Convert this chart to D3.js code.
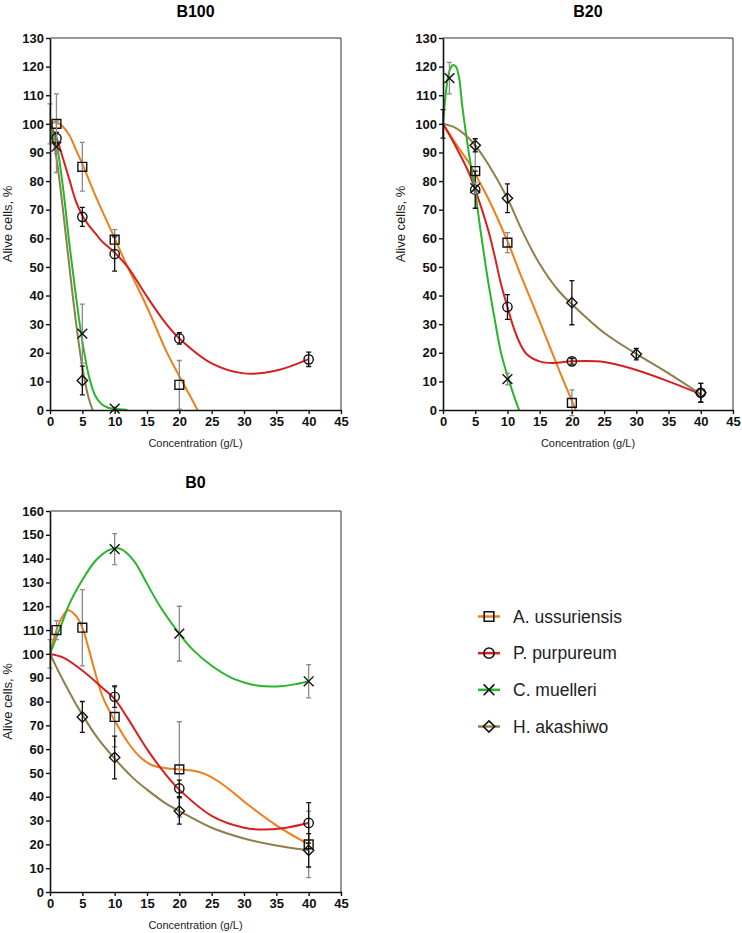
<!DOCTYPE html>
<html>
<head>
<meta charset="utf-8">
<script src="https://cdn.jsdelivr.net/npm/d3@7"></script>
<style>
  body { margin: 0; background: #fff; }
  svg { display: block; }
</style>
</head>
<body>
<div id="chart"></div>
<script>
// ---- data ----
const species = ["A. ussuriensis", "P. purpureum", "C. muelleri", "H. akashiwo"];
const xTicks = [0, 5, 10, 15, 20, 25, 30, 35, 40, 45];

// measured points: [concentration, alive %, error]
const b100Ussuriensis = [[1, 100, 10.5], [5, 85, 8.5], [10, 59.5, 3.5], [20, 8.8, 8.5]];
const b100Purpureum   = [[1, 95, 2], [5, 67.5, 3.3], [10, 54.5, 6], [20, 25, 2], [40, 17.7, 2.5]];
const b100Muelleri    = [[1, 92, 9], [5, 26.7, 10.3], [10, 0.5, 0.5]];
const b100Akashiwo    = [[5, 10.3, 5]];

const b20Ussuriensis = [[5, 83.5, 7], [10, 58.5, 3.5], [20, 2.5, 4.5]];
const b20Purpureum   = [[5, 77, 6.5], [10, 36, 4.3], [20, 17, 1], [40, 6, 3.3]];
const b20Muelleri    = [[1, 116, 5.5], [5, 77.5, 2], [10, 10.8, 2]];
const b20Akashiwo    = [[5, 92.5, 2.3], [10, 74, 5], [20, 37.5, 7.7], [30, 19.5, 2], [40, 6, 3.3]];

const b0Ussuriensis = [[1, 110, 4], [5, 111, 16], [10, 73.5, 12.5], [20, 51.5, 20], [40, 20, 14]];
const b0Purpureum   = [[10, 82, 4.5], [20, 43.5, 3.5], [40, 29, 8.5]];
const b0Muelleri    = [[10, 144, 6.5], [20, 108.5, 11.5], [40, 88.5, 7]];
const b0Akashiwo    = [[5, 73.5, 6.5], [10, 56.5, 9], [20, 34, 5.5], [40, 17.5, 7]];

// untreated control error bars at 0 g/L
const b100Control = [[0, 100, 7]];
const b20Control  = [[0, 100, 5]];
const b0Control   = [[0, 100, 6]];

// fitted curves: [concentration, alive %]
const b100UssuriensisFit = [[0, 100], [1, 100.5], [2, 99], [3, 96], [4, 91], [5, 86], [7, 75], [10, 60], [12, 50], [15, 36], [18, 20.5], [20, 11.8], [22, 3.5], [22.8, 0]];
const b100PurpureumFit   = [[0, 100], [1, 95], [2, 88], [3, 80.5], [4, 73], [5, 68], [6, 64.5], [7, 61.8], [8, 59], [10, 55], [12, 50], [15, 39.6], [18, 30], [20, 25], [25, 16.3], [30, 12.8], [35, 13.8], [40, 17.8]];
const b100MuelleriFit    = [[0, 100], [1, 93], [2, 78], [3, 58], [4, 40], [5, 24], [6, 12], [7, 5], [8, 2], [9, 0.8], [10, 0.4], [12, 0]];
const b100AkashiwoFit    = [[0, 100], [1, 88], [2, 70], [3, 50], [4, 31], [5, 15], [6, 4], [6.6, 0]];

const b20UssuriensisFit = [[0, 100], [2, 93], [4, 86.5], [5, 82.5], [7, 74], [10, 59], [12, 47.5], [15, 31], [18, 14], [20.6, 0]];
const b20PurpureumFit   = [[0, 100], [2, 92], [4, 83], [5, 77], [7, 63], [8, 54], [9, 44], [10, 36], [11, 28.5], [12, 23], [13, 19.5], [15, 17], [17, 16.4], [20, 17], [25, 16.8], [30, 14], [35, 10], [40, 5.5]];
const b20MuelleriFit    = [[0, 100], [0.5, 112], [1, 118.5], [1.5, 120.5], [2, 120], [2.5, 116], [3, 106], [4, 90], [5, 76], [6, 60], [7, 45], [8, 32], [9, 20], [10, 12], [11, 5], [11.8, 0]];
const b20AkashiwoFit    = [[0, 100], [2, 98.5], [4, 95], [5, 92.5], [7, 86], [10, 74], [12, 64], [15, 51], [18, 41.5], [20, 37], [25, 27], [30, 19.6], [35, 12.8], [40, 5.5]];

const b0UssuriensisFit = [[0, 100], [1, 110], [2, 116], [2.8, 118.3], [4, 116], [5, 111], [6, 102], [7, 92], [8, 83], [9, 77], [10, 72], [12, 63], [14, 56.5], [16, 53], [18, 52], [20, 51.5], [22, 51], [24, 49.5], [26, 46.5], [28, 42.5], [30, 38], [35, 28], [40, 20]];
const b0PurpureumFit   = [[0, 100], [2, 98.5], [5, 93], [8, 86], [10, 81], [12, 73], [15, 60], [18, 49], [20, 43], [25, 32], [30, 27], [33, 26.2], [36, 26.8], [40, 29]];
const b0MuelleriFit    = [[0, 100], [1, 107], [2, 114], [3, 121], [5, 131], [7, 139], [9, 143.5], [10, 144.3], [11, 144], [13, 139], [15, 129.5], [17, 120], [20, 108.5], [22, 102], [25, 95], [28, 90], [30, 88], [32, 86.7], [35, 86.3], [38, 87.3], [40, 88.5]];
const b0AkashiwoFit    = [[0, 100], [2, 89], [4, 79], [5, 74.5], [7, 66], [10, 56], [13, 47.5], [15, 43], [18, 37], [20, 34], [25, 27], [30, 22.5], [35, 19.5], [40, 17.5]];

// ---- styles ----
const lineColors = ["#f07d1c", "#d81f1f", "#27b52a", "#8c7f4b"];
const errColors = ["#8a8a8a", "#111", "#8a8a8a", "#111"];
const symbols = [d3.symbolSquare, d3.symbolCircle, d3.symbolTimes, d3.symbolDiamond2];
const symbolSizes = [78, 68, 64, 68];

const panels = [
  { title: "B100", left: 50, right: 341, top: 38, bottom: 410, yMax: 130, titleY: 17, xLabelY: 447, yLabelX: 12,
    points: [b100Ussuriensis, b100Purpureum, b100Muelleri, b100Akashiwo],
    fits: [b100UssuriensisFit, b100PurpureumFit, b100MuelleriFit, b100AkashiwoFit], control: b100Control, controlColor: "#8a8a8a" },
  { title: "B20", left: 443, right: 733, top: 38, bottom: 410, yMax: 130, titleY: 17, xLabelY: 447, yLabelX: 405,
    points: [b20Ussuriensis, b20Purpureum, b20Muelleri, b20Akashiwo],
    fits: [b20UssuriensisFit, b20PurpureumFit, b20MuelleriFit, b20AkashiwoFit], control: b20Control, controlColor: "#111" },
  { title: "B0", left: 50, right: 341, top: 511, bottom: 892, yMax: 160, titleY: 488, xLabelY: 929, yLabelX: 12,
    points: [b0Ussuriensis, b0Purpureum, b0Muelleri, b0Akashiwo],
    fits: [b0UssuriensisFit, b0PurpureumFit, b0MuelleriFit, b0AkashiwoFit], control: b0Control, controlColor: "#8a8a8a" }
];

const width = 742, height = 933;
const font = "Arial, 'Liberation Sans', sans-serif";

const svg = d3.select("#chart")
  .append("svg")
  .attr("width", width)
  .attr("height", height)
  .style("font-family", font);

panels.forEach((p, pi) => {
  const x = d3.scaleLinear().domain([0, 45]).range([p.left, p.right]);
  const y = d3.scaleLinear().domain([0, p.yMax]).range([p.bottom, p.top]);
  const g = svg.append("g");

  // clip to plot area
  const clipId = "clip" + pi;
  svg.append("clipPath").attr("id", clipId)
    .append("rect")
    .attr("x", p.left).attr("y", p.top)
    .attr("width", p.right - p.left).attr("height", p.bottom - p.top + 1);

  // top / right frame
  g.append("path")
    .attr("d", `M${p.left},${p.top}H${p.right}V${p.bottom}`)
    .attr("fill", "none")
    .attr("stroke", "#333")
    .attr("stroke-width", 1);

  // fitted curves
  const line = d3.line()
    .x(d => x(d[0]))
    .y(d => y(d[1]))
    .curve(d3.curveCatmullRom.alpha(0.5));

  g.append("g").attr("clip-path", `url(#${clipId})`)
    .selectAll("path")
    .data(p.fits)
    .join("path")
    .attr("fill", "none")
    .attr("stroke", (d, i) => lineColors[i])
    .attr("stroke-width", 2)
    .attr("d", line);

  // error bar drawing helper
  const errBar = (sel, color) => {
    sel.append("path")
      .attr("d", d => `M${x(d[0])},${y(d[1] - d[2])}V${y(d[1] + d[2])}` +
        `M${x(d[0]) - 2.5},${y(d[1] + d[2])}h5M${x(d[0]) - 2.5},${y(d[1] - d[2])}h5`)
      .attr("fill", "none")
      .attr("stroke", color)
      .attr("stroke-width", 1.3);
  };
  g.selectAll(".ctrl")
    .data(p.control)
    .join("g")
    .attr("class", "ctrl")
    .call(errBar, p.controlColor);

  // error bars and markers for each species
  p.points.forEach((pts, si) => {
    const sg = g.append("g");
    sg.selectAll(".err")
      .data(pts)
      .join("g")
      .attr("class", "err")
      .call(errBar, errColors[si]);

    sg.selectAll(".mark")
      .data(pts)
      .join("path")
      .attr("class", "mark")
      .attr("transform", d => `translate(${x(d[0])},${y(d[1])})`)
      .attr("d", d3.symbol().type(symbols[si]).size(symbolSizes[si]))
      .attr("fill", "none")
      .attr("stroke", "#111")
      .attr("stroke-width", 1.4);
  });

  // axes
  const xAxis = g.append("g")
    .attr("transform", `translate(0,${p.bottom})`)
    .call(d3.axisBottom(x).tickValues(xTicks).tickSize(4).tickSizeOuter(0).tickPadding(3));

  const yAxis = g.append("g")
    .attr("transform", `translate(${p.left},0)`)
    .call(d3.axisLeft(y).ticks(p.yMax / 10).tickSize(4).tickSizeOuter(0).tickPadding(2));

  [xAxis, yAxis].forEach(a => {
    a.select(".domain").attr("stroke", "#111").attr("stroke-width", 1.6);
    a.selectAll(".tick line").attr("stroke", "#111").attr("stroke-width", 1.4);
    a.selectAll(".tick text")
      .attr("fill", "#111")
      .style("font-family", font)
      .style("font-size", "13px")
      .style("font-weight", "bold");
  });

  // titles
  g.append("text")
    .attr("x", (p.left + p.right) / 2)
    .attr("y", p.titleY)
    .attr("text-anchor", "middle")
    .style("font-size", "16px")
    .style("font-weight", "bold")
    .text(p.title);

  g.append("text")
    .attr("x", (p.left + p.right) / 2)
    .attr("y", p.xLabelY)
    .attr("text-anchor", "middle")
    .style("font-size", "11px")
    .attr("fill", "#222")
    .text("Concentration (g/L)");

  g.append("text")
    .attr("transform", `translate(${p.yLabelX},${(p.top + p.bottom) / 2}) rotate(-90)`)
    .attr("text-anchor", "middle")
    .style("font-size", "13px")
    .attr("fill", "#222")
    .text("Alive cells, %");
});

// legend
const legendY = d3.scalePoint().domain(species).range([616.5, 726.5]);
const legend = svg.append("g");
const rows = legend.selectAll("g")
  .data(species)
  .join("g")
  .attr("transform", d => `translate(489,${legendY(d)})`);

rows.append("line")
  .attr("x1", -11).attr("x2", 11)
  .attr("stroke", (d, i) => lineColors[i])
  .attr("stroke-width", 2.5);

rows.append("path")
  .attr("d", (d, i) => d3.symbol().type(symbols[i]).size(symbolSizes[i] + 14)())
  .attr("fill", "none")
  .attr("stroke", "#111")
  .attr("stroke-width", 1.6);

rows.append("text")
  .attr("x", 24)
  .attr("dy", "0.36em")
  .style("font-size", "17.5px")
  .attr("fill", "#222")
  .text(d => d);
</script>
</body>
</html>
